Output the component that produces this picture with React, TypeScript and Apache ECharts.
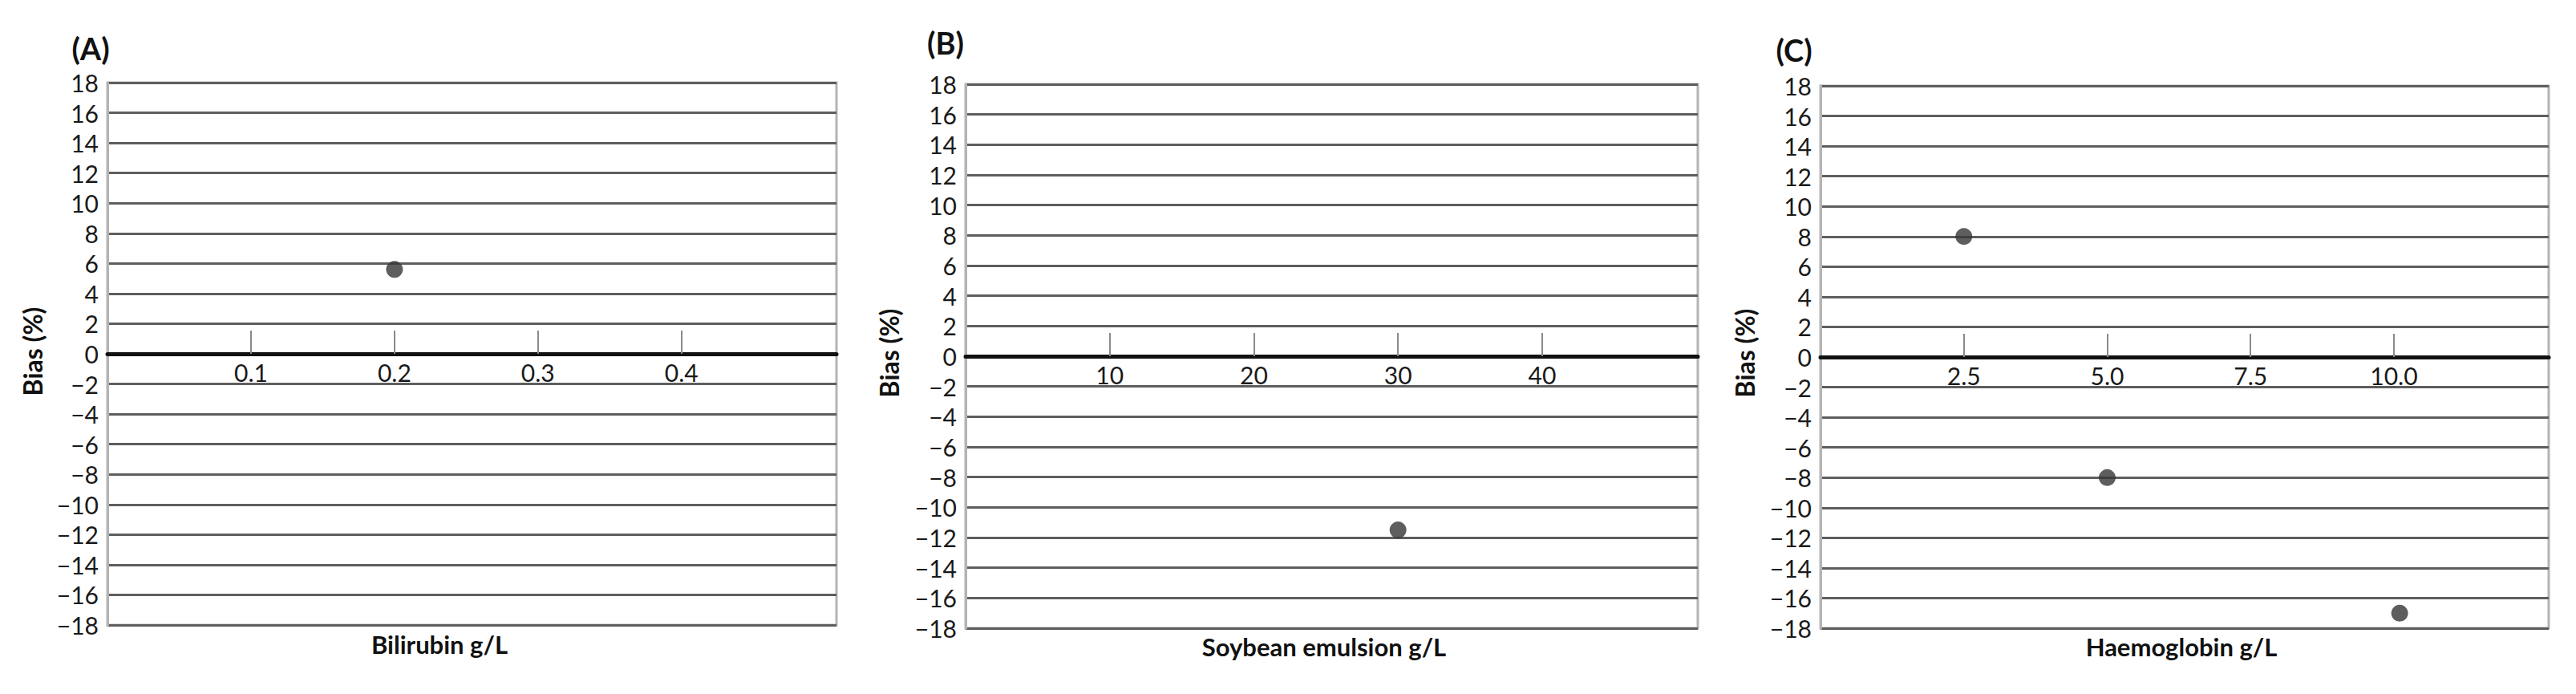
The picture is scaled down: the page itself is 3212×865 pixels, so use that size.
import React, { useEffect, useRef } from "react";
import * as echarts from "echarts";

// ---- data ----
const panelLetters = ["(A)", "(B)", "(C)"];
const xTitles = ["Bilirubin g/L", "Soybean emulsion g/L", "Haemoglobin g/L"];
const yTitle = "Bias (%)";

const xTicksA = [0.1, 0.2, 0.3, 0.4];
const xTicksB = [10, 20, 30, 40];
const xTicksC = [2.5, 5.0, 7.5, 10.0];

const xMaxA = 0.508;
const xMaxB = 50.8;
const xMaxC = 12.7;

const pointsA = [[0.2, 5.6]];
const pointsB = [[30, -11.5]];
const pointsC = [
  [2.5, 8],
  [5.0, -8],
  [10.1, -17],
];

const yMin = -18;
const yMax = 18;
const yStep = 2;

// ---- layout ----
const grids = [
  { left: 134, top: 103, width: 909, height: 676 },
  { left: 1204, top: 105, width: 913, height: 678 },
  { left: 2270, top: 107, width: 908, height: 676 },
];
const letterPos = [
  [113, 60],
  [1179, 53],
  [2237, 62],
];
const yTitlePos = [
  [40, 438],
  [1108, 440],
  [2175, 440],
];
const xTitlePos = [
  [548, 803],
  [1651, 806],
  [2720, 806],
];

const FONT = "Lato, 'Open Sans', sans-serif";

export default function App() {
  const ref = useRef<HTMLDivElement>(null);

  useEffect(() => {
    if (!ref.current) return;
    const chart = echarts.init(ref.current, undefined, { renderer: "svg" });

    const xTickSets = [xTicksA, xTicksB, xTicksC];
    const xMaxes = [xMaxA, xMaxB, xMaxC];
    const fmts = [
      (v: number) => v.toFixed(1),
      (v: number) => String(Math.round(v)),
      (v: number) => v.toFixed(1),
    ];
    const pts = [pointsA, pointsB, pointsC];

    const option: any = {
      animation: false,
      backgroundColor: "#ffffff",
      grid: grids.map((g) => ({
        ...g,
        show: true,
        borderColor: "#b4b4b4",
        borderWidth: 3,
        backgroundColor: "transparent",
      })),
      xAxis: grids.map((g, i) => ({
        type: "value",
        gridIndex: i,
        position: "bottom",
        // place the axis on the zero line of the y scale (y range is symmetric)
        offset: -g.height * ((0 - yMin) / (yMax - yMin)),
        min: 0,
        max: xMaxes[i],
        axisLine: {
          show: true,
          onZero: false,
          lineStyle: { color: "#111111", width: 5 },
        },
        axisTick: {
          show: true,
          inside: true,
          length: 29,
          customValues: xTickSets[i],
          lineStyle: { color: "#8a8a8a", width: 2 },
        },
        axisLabel: {
          show: true,
          customValues: xTickSets[i],
          formatter: fmts[i],
          margin: 8,
          color: "#1a1a1a",
          fontFamily: FONT,
          fontSize: 30,
        },
        splitLine: { show: false },
      })),
      yAxis: grids.map((_, i) => ({
        type: "value",
        gridIndex: i,
        min: yMin,
        max: yMax,
        interval: yStep,
        axisLine: { show: true, lineStyle: { color: "#b4b4b4", width: 3 } },
        axisTick: { show: false },
        axisLabel: {
          margin: 11,
          color: "#1a1a1a",
          fontFamily: FONT,
          fontSize: 30,
          formatter: (v: number) => String(v).replace("-", "\u2212"),
        },
        splitLine: {
          show: true,
          lineStyle: { color: "#5e5e5e", width: 3 },
        },
      })),
      series: pts.map((d, i) => ({
        type: "scatter",
        xAxisIndex: i,
        yAxisIndex: i,
        data: d,
        symbol: "circle",
        symbolSize: 21,
        itemStyle: { color: "#363636" },
        z: 5,
      })),
      graphic: [
        ...panelLetters.map((t, i) => ({
          type: "text",
          x: letterPos[i][0],
          y: letterPos[i][1],
          style: {
            text: t,
            align: "center",
            verticalAlign: "middle",
            fontFamily: FONT,
            fontWeight: "bold",
            fontSize: 38,
            fill: "#111111",
          },
        })),
        ...yTitlePos.map((p) => ({
          type: "text",
          x: p[0],
          y: p[1],
          rotation: Math.PI / 2,
          style: {
            text: yTitle,
            align: "center",
            verticalAlign: "middle",
            fontFamily: FONT,
            fontWeight: "bold",
            fontSize: 32,
            fill: "#111111",
          },
        })),
        ...xTitles.map((t, i) => ({
          type: "text",
          x: xTitlePos[i][0],
          y: xTitlePos[i][1],
          style: {
            text: t,
            align: "center",
            verticalAlign: "middle",
            fontFamily: FONT,
            fontWeight: "bold",
            fontSize: 31,
            fill: "#111111",
          },
        })),
      ],
    };

    chart.setOption(option);
    return () => chart.dispose();
  }, []);

  return (
    <div
      ref={ref}
      style={{ position: "absolute", left: 0, top: 0, width: 3212, height: 865 }}
    />
  );
}
